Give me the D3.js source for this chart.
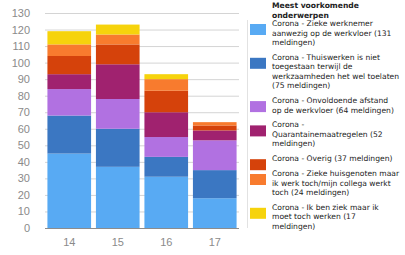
<!DOCTYPE html>
<meta charset="utf-8">
<script src="https://d3js.org/d3.v7.min.js"></script>
<style>
  body { margin: 0; background: #fff; }
  svg { display: block; }
</style>
<body>
<div id="my_dataviz"></div>
<script>

  // weeks on the x axis
  var weeks = ["14", "15", "16", "17"];

  // meldingen per onderwerp, one value per week
  var zieke = [45, 37, 31, 18];
  var thuiswerken = [23, 23, 12, 17];
  var afstand = [16, 18, 12, 18];
  var quarantaine = [9, 21, 15, 6];
  var overig = [11, 12, 13, 3];
  var huisgenoten = [7, 6, 7, 2];
  var ziekWerken = [8, 6, 3, 0];

  var yTicks = [0, 10, 20, 30, 40, 50, 60, 70, 80, 90, 100, 110, 120, 130];

  var legendTitle = ["Meest voorkomende", "onderwerpen"];
  var legendLabels = [
    ["Corona - Zieke werknemer", "aanwezig op de werkvloer (131", "meldingen)"],
    ["Corona - Thuiswerken is niet", "toegestaan terwijl de", "werkzaamheden het wel toelaten", "(75 meldingen)"],
    ["Corona - Onvoldoende afstand", "op de werkvloer (64 meldingen)"],
    ["Corona -", "Quarantainemaatregelen (52", "meldingen)"],
    ["Corona - Overig (37 meldingen)"],
    ["Corona - Zieke huisgenoten maar", "ik werk toch/mijn collega werkt", "toch (24 meldingen)"],
    ["Corona - Ik ben ziek maar ik", "moet toch werken (17", "meldingen)"]
  ];

  var series = [zieke, thuiswerken, afstand, quarantaine, overig, huisgenoten, ziekWerken];
  var colors = ["#58aaf3", "#3b77c2", "#b171e1", "#a0226f", "#d5420b", "#f87b2e", "#f6d30c"];

  var W = 405, H = 255;
  var margin = { top: 13, left: 45, right: 166, bottom: 27 };
  var width = W - margin.left - margin.right,
    height = H - margin.top - margin.bottom;

  var svg = d3.select("#my_dataviz")
    .append("svg")
    .attr("width", W)
    .attr("height", H);

  var g = svg.append("g")
    .attr("transform", "translate(" + margin.left + "," + margin.top + ")");

  // table for the stack
  var table = weeks.map(function (w, i) {
    var row = { week: w };
    series.forEach(function (s, k) { row["s" + k] = s[i]; });
    return row;
  });
  var keys = series.map(function (s, k) { return "s" + k; });
  var stacked = d3.stack().keys(keys)(table);

  var x = d3.scaleBand()
    .domain(weeks)
    .range([0, width])
    .paddingInner(0.1)
    .paddingOuter(0.05);

  var y = d3.scaleLinear()
    .domain([0, 130])
    .range([height, 0]);

  // grid lines
  g.append("g")
    .selectAll("line")
    .data(yTicks.slice(1))
    .enter()
    .append("line")
    .attr("x1", 0)
    .attr("x2", width)
    .attr("y1", function (d) { return y(d) + 0.5; })
    .attr("y2", function (d) { return y(d) + 0.5; })
    .attr("stroke", "#d4d4d4")
    .attr("stroke-width", 1);

  // y labels
  g.append("g")
    .call(d3.axisLeft(y).tickValues(yTicks).tickSize(0).tickPadding(15))
    .call(function (a) { a.select(".domain").remove(); })
    .selectAll("text")
    .attr("fill", "#8a8a8a")
    .style("font-family", "Liberation Sans, Arial, sans-serif")
    .style("font-size", "11px");

  // bars
  g.append("g")
    .selectAll("g")
    .data(stacked)
    .enter()
    .append("g")
    .attr("fill", function (d, i) { return colors[i]; })
    .selectAll("rect")
    .data(function (d) { return d; })
    .enter()
    .append("rect")
    .attr("x", function (d) { return x(d.data.week); })
    .attr("y", function (d) { return y(d[1]); })
    .attr("width", x.bandwidth())
    .attr("height", function (d) { return y(d[0]) - y(d[1]); });

  // baseline
  g.append("line")
    .attr("x1", 0)
    .attr("x2", width)
    .attr("y1", height + 0.5)
    .attr("y2", height + 0.5)
    .attr("stroke", "#8c8c8c");

  // x labels
  g.append("g")
    .attr("transform", "translate(0," + height + ")")
    .call(d3.axisBottom(x).tickSize(0).tickPadding(10))
    .call(function (a) { a.select(".domain").remove(); })
    .selectAll("text")
    .attr("fill", "#8a8a8a")
    .style("font-family", "Liberation Sans, Arial, sans-serif")
    .style("font-size", "11px");

  // separator next to the legend
  svg.append("line")
    .attr("x1", 247.5).attr("x2", 247.5)
    .attr("y1", 20).attr("y2", 228)
    .attr("stroke", "#e2e2e2");

  // legend
  var lg = svg.append("g")
    .attr("transform", "translate(250,0)")
    .style("font-family", "DejaVu Sans, Verdana, sans-serif")
    .style("font-size", "7.6px")
    .attr("fill", "#222");

  lg.append("text")
    .attr("x", 22)
    .attr("y", 8)
    .style("font-weight", "bold")
    .selectAll("tspan")
    .data(legendTitle)
    .enter()
    .append("tspan")
    .attr("x", 22)
    .attr("dy", function (d, i) { return i ? 10 : 0; })
    .text(function (d) { return d; });

  var lineH = 9.5, gap = 5.3;
  var itemY = 24;
  legendLabels.forEach(function (lines, i) {
    var item = lg.append("g").attr("transform", "translate(0," + itemY + ")");
    item.append("rect")
      .attr("width", 16)
      .attr("height", 11)
      .attr("fill", colors[i]);
    item.append("text")
      .attr("y", 2)
      .selectAll("tspan")
      .data(lines)
      .enter()
      .append("tspan")
      .attr("x", 22)
      .attr("dy", function (d, j) { return j ? lineH : 0; })
      .text(function (d) { return d; });
    itemY += lines.length * lineH + gap;
  });

</script>
</body>
